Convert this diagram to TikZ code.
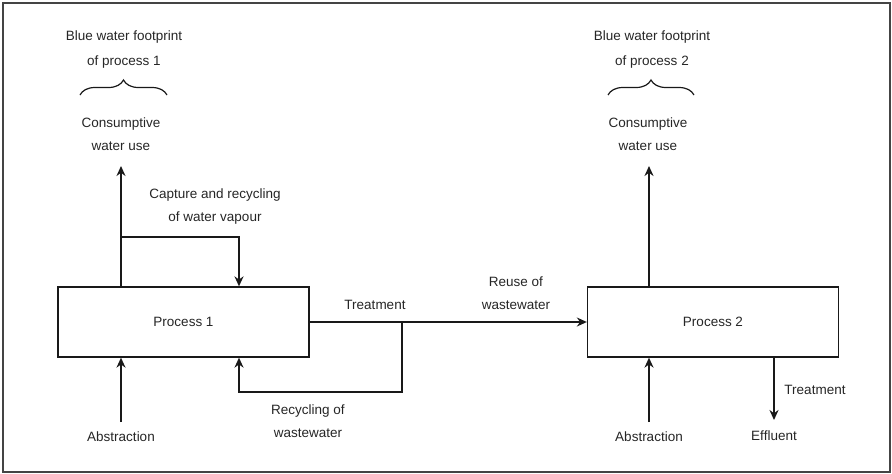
\documentclass[tikz,border=0pt]{standalone}
\usepackage{fontspec}
\setmainfont{Liberation Sans}
\usetikzlibrary{arrows.meta,decorations.pathreplacing}
\definecolor{txt}{HTML}{262626}
\definecolor{frame}{HTML}{444444}
\begin{document}
\begin{tikzpicture}[x=1pt,y=-1pt,
  font=\fontsize{13.5}{23}\selectfont, text=txt,
  lbl/.style={align=center, inner sep=0pt},
  toplbl/.style={align=center, inner sep=0pt, font=\fontsize{13.5}{25}\selectfont},
  proc/.style={draw=black!90, line width=1.3pt, minimum width=251pt, minimum height=70pt, inner sep=0pt},
  arr/.style={draw=black!90, line width=1.8pt, -{Stealth[length=10pt,width=9pt]}},
  ln/.style={draw=black!90, line width=1.8pt},
  brc/.style={draw=black!90, line width=1.2pt, decorate, decoration={brace, amplitude=15pt}}]
\useasboundingbox (0,0) rectangle (892,474);
\draw[line width=1.5pt, draw=frame] (3,3) rectangle (890,472);

% process boxes
\node[proc] (p1) at (183.5,322) {Process 1};
\node[proc] (p2) at (713,322) {Process 2};

% labels
\node[toplbl] (bw1) at (124,49.5) {Blue water footprint\\of process 1};
\node[toplbl] (bw2) at (652,49.5) {Blue water footprint\\of process 2};
\node[lbl] (cw1) at (121,134.5) {Consumptive\\water use};
\node[lbl] (cw2) at (648,134.5) {Consumptive\\water use};
\node[lbl] (cap) at (215,206.5) {Capture and recycling\\of water vapour};
\node[lbl] (trt1) at (375,305) {Treatment};
\node[lbl] (reuse) at (516,293) {Reuse of\\wastewater};
\node[lbl] (rec) at (308,421.5) {Recycling of\\wastewater};
\node[lbl] (ab1) at (121,437) {Abstraction};
\node[lbl] (ab2) at (649,437) {Abstraction};
\node[lbl] (trt2) at (815,390) {Treatment};
\node[lbl] (eff) at (774,436) {Effluent};

% braces
\coordinate (b1l) at (80,95);
\coordinate (b1r) at (167,95);
\coordinate (b2l) at (608,95);
\coordinate (b2r) at (694,95);
\draw[brc] (b1l) -- (b1r);
\draw[brc] (b2l) -- (b2r);

% free ends and junctions
\coordinate (u1) at (121,166);
\coordinate (u2) at (649,166);
\coordinate (j1) at (121,237);
\coordinate (k1) at (239,237);
\coordinate (r1) at (402,392);
\coordinate (a1) at (121,422);
\coordinate (a2) at (649,422);
\coordinate (e1) at (774,420);

% process 1 connectors
\draw[arr] (p1.north -| u1) -- (u1);
\draw[arr] (j1) -| (k1 |- p1.north);
\draw[arr] (a1) -- (a1 |- p1.south);
\draw[arr] (p1.east) -- (p2.west);
\draw[arr] (p1.east -| r1) -- (r1) -| (k1 |- p1.south);

% process 2 connectors
\draw[arr] (p2.north -| u2) -- (u2);
\draw[arr] (a2) -- (a2 |- p2.south);
\draw[arr] (p2.south -| e1) -- (e1);
\end{tikzpicture}
\end{document}
